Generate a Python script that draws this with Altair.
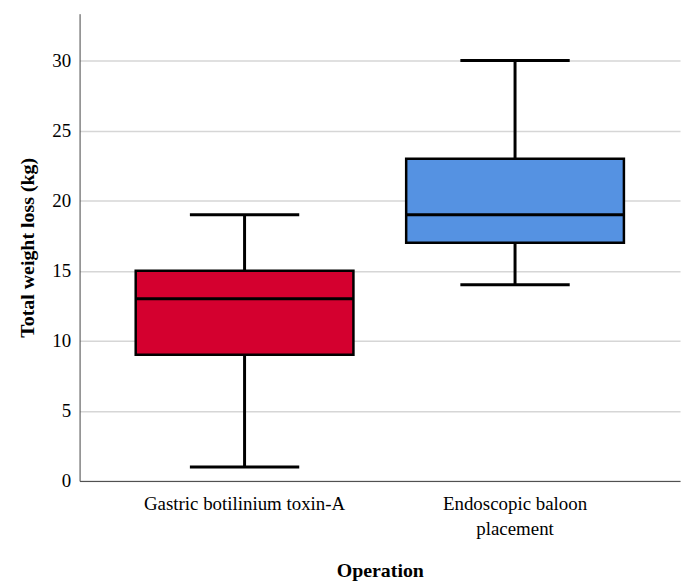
import altair as alt
import pandas as pd

categories = ["Gastric botilinium toxin-A", "Endoscopic baloon placement"]
whisker_low = [1, 14]
q1 = [9, 17]
median = [13, 19]
q3 = [15, 23]
whisker_high = [19, 30]
colors = ["#d4002f", "#5592e2"]

df = pd.DataFrame({
    "cat": categories, "lo": whisker_low, "q1": q1, "med": median,
    "q3": q3, "hi": whisker_high,
})

FONT = "Liberation Serif"

x = alt.X("cat:N", sort=categories, title="Operation",
          scale=alt.Scale(paddingInner=0, paddingOuter=0.11),
          axis=alt.Axis(labelAngle=0, ticks=False, labelFontSize=19, labelFont=FONT,
                        labelColor="#000", labelLimit=0, labelLineHeight=25,
                        titleFont=FONT, titleFontSize=20,
                        titleFontWeight="bold", titleColor="#000", titlePadding=22,
                        domainColor="#444", labelPadding=14,
                        labelExpr="datum.label == 'Endoscopic baloon placement' ? ['Endoscopic baloon', 'placement'] : datum.label"))
yscale = alt.Scale(domain=[0, 33.35], nice=False)

base = alt.Chart(df)

whisk = base.mark_rule(color="black", strokeWidth=3, opacity=1).encode(
    x=x,
    y=alt.Y("lo:Q", scale=yscale, title="Total weight loss (kg)",
            axis=alt.Axis(values=[0, 5, 10, 15, 20, 25, 30], ticks=False, grid=True,
                          gridColor="#d6d6d6", gridWidth=1.5, domainColor="#444",
                          labelFontSize=19, labelFont=FONT, labelColor="#000",
                          labelPadding=9, titleFont=FONT, titleFontSize=20,
                          titleFontWeight="bold", titleColor="#000", titlePadding=14)),
    y2="hi:Q",
)

box = base.mark_bar(width=alt.RelativeBandSize(0.805), stroke="black", strokeWidth=2.5,
                    opacity=1).encode(
    x=x,
    y=alt.Y("q1:Q", scale=yscale),
    y2="q3:Q",
    color=alt.Color("cat:N", scale=alt.Scale(domain=categories, range=colors), legend=None),
)

med = base.mark_tick(color="black", size=219, thickness=3, opacity=1).encode(
    x=x, y=alt.Y("med:Q", scale=yscale))

cap_lo = base.mark_tick(color="black", size=110, thickness=3, opacity=1).encode(
    x=x, y=alt.Y("lo:Q", scale=yscale))
cap_hi = base.mark_tick(color="black", size=110, thickness=3, opacity=1).encode(
    x=x, y=alt.Y("hi:Q", scale=yscale))

chart = alt.layer(whisk, box, med, cap_lo, cap_hi).properties(
    width=604, height=470, background="white",
    padding={"left": 10, "top": 4, "right": 5, "bottom": 5},
).configure_view(stroke=None)

chart.save("out.html", embed_options={"renderer": "svg", "actions": False})
